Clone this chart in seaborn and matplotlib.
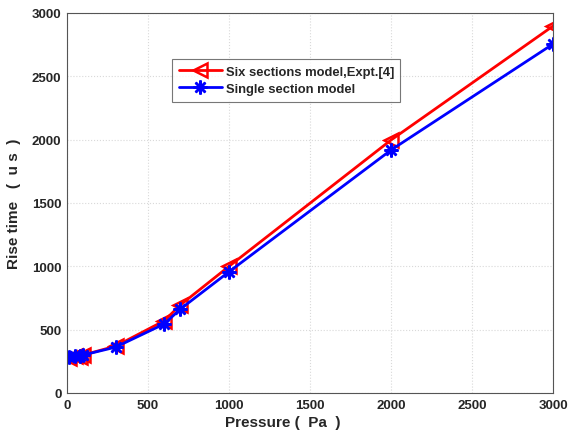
import matplotlib
matplotlib.use("Agg")
import matplotlib.pyplot as plt
import seaborn as sns
import pandas as pd

pressure = [15, 50, 80, 100, 300, 600, 700, 1000, 2000, 3000]
six_sections = [280, 290, 285, 300, 370, 570, 695, 1000, 1997, 2897]
single_section = [285, 290, 295, 300, 362, 545, 663, 957, 1918, 2755]
labels = ["Six sections model,Expt.[4]", "Single section model"]

df_six = pd.DataFrame({"Pressure": pressure, "Rise": six_sections})
df_single = pd.DataFrame({"Pressure": pressure, "Rise": single_section})

sns.set_style("white")
plt.rcParams["font.family"] = ["Liberation Sans", "DejaVu Sans"]
plt.rcParams["font.weight"] = "bold"

fig = plt.figure(figsize=(5.72, 4.35), dpi=100)
ax = fig.add_axes([67/572, 1-394/435, (553-67)/572, (394-14)/435])

sns.lineplot(data=df_six, x="Pressure", y="Rise", color="#ff0000", marker="<",
             linewidth=2, markersize=10, ax=ax, sort=False, label=labels[0],
             markerfacecolor="none", markeredgecolor="#ff0000", markeredgewidth=1.8)
sns.lineplot(data=df_single, x="Pressure", y="Rise", color="#0000ff", marker=(8, 2, 0),
             linewidth=2, markersize=10, ax=ax, sort=False, label=labels[1],
             markeredgecolor="#0000ff", markeredgewidth=1.8)

ax.set_xlim(0, 3000)
ax.set_ylim(0, 3000)
ax.set_xticks(range(0, 3001, 500))
ax.set_yticks(range(0, 3001, 500))
ax.grid(True, linestyle=":", color="#d9d9d9", linewidth=0.8)
for s in ax.spines.values():
    s.set_color("#555555")
    s.set_linewidth(0.8)
ax.tick_params(labelsize=9.5, length=3, direction="in", color="#555555", pad=4)
for t in ax.get_xticklabels() + ax.get_yticklabels():
    t.set_fontweight("bold")
ax.set_xlabel("Pressure (  Pa  )", fontsize=11, fontweight="bold")
ax.set_ylabel("Rise time   (  u s  )", fontsize=11, fontweight="bold", labelpad=8)
ax.xaxis.set_label_coords((283-67)/486, -0.057)

leg = ax.legend(loc="upper left", bbox_to_anchor=((172-67)/486, 1-(60-14)/380),
                borderaxespad=0, fontsize=9.4, frameon=True, fancybox=False,
                handlelength=3.3, borderpad=0.5, labelspacing=0.4,
                handletextpad=0.3)
leg.get_frame().set_edgecolor("#555555")
leg.get_frame().set_linewidth(0.8)
for t in leg.get_texts():
    t.set_fontweight("bold")

fig.savefig("out.png", dpi=100)
